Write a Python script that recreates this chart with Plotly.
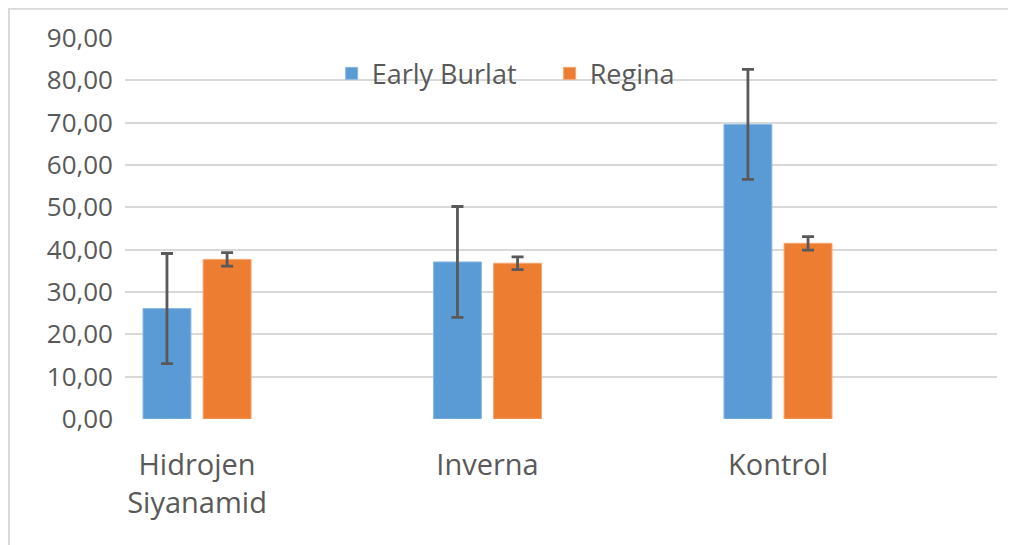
import plotly.graph_objects as go

categories = ["Hidrojen<br>Siyanamid", "Inverna", "Kontrol"]
early_burlat = [26.1, 37.1, 69.6]
early_burlat_err = [13.0, 13.1, 13.0]
regina = [37.7, 36.8, 41.5]
regina_err = [1.6, 1.5, 1.6]
y_ticks = [0, 10, 20, 30, 40, 50, 60, 70, 80, 90]

FONT = "Open Sans"
TXT = "#595959"
xs = list(range(len(categories)))

fig = go.Figure()
fig.add_trace(go.Bar(
    x=xs, y=early_burlat, name="Early Burlat",
    width=0.165, offset=-0.186,
    marker=dict(color="#5B9BD5", line=dict(color="#8DB9E4", width=1)),
    error_y=dict(type="data", array=early_burlat_err, visible=True,
                 color="#595959", thickness=2.8, width=6),
))
fig.add_trace(go.Bar(
    x=xs, y=regina, name="Regina",
    width=0.165, offset=0.021,
    marker=dict(color="#ED7D31", line=dict(color="#F4A674", width=1)),
    error_y=dict(type="data", array=regina_err, visible=True,
                 color="#595959", thickness=2.8, width=6),
))

fig.update_layout(
    width=1016, height=545,
    margin=dict(l=117, r=27, t=30, b=134, autoexpand=False),
    paper_bgcolor="white", plot_bgcolor="white",
    separators=", ",
    font=dict(family=FONT, color=TXT, size=26),
    showlegend=True,
    legend=dict(orientation="h", x=0.237, y=0.906, xanchor="left", yanchor="middle",
                bgcolor="rgba(0,0,0,0)", font=dict(size=27, color=TXT),
                itemwidth=30, entrywidth=173, entrywidthmode="pixels",
                traceorder="normal"),
    xaxis=dict(range=[-0.248, 2.754], tickmode="array", tickvals=xs, ticktext=categories,
               showgrid=False, zeroline=False, showline=False, ticks="",
               tickfont=dict(size=29, color=TXT), ticklabelstandoff=26),
    yaxis=dict(range=[0, 90], tickmode="array", tickvals=y_ticks, tickformat=".2f",
               showgrid=True, gridcolor="#D9D9D9", gridwidth=2,
               zeroline=False, showline=False, ticks="",
               tickfont=dict(size=26, color=TXT), ticklabelstandoff=11),
    shapes=[dict(type="rect", xref="paper", yref="paper",
                 x0=(9 - 125) / 872, x1=(1040 - 125) / 872,
                 y0=(419.3 - 580) / 381.1, y1=(419.3 - 9) / 381.1,
                 line=dict(color="#D9D9D9", width=2), fillcolor="rgba(0,0,0,0)",
                 layer="below")],
)

fig.write_html("out.html")
